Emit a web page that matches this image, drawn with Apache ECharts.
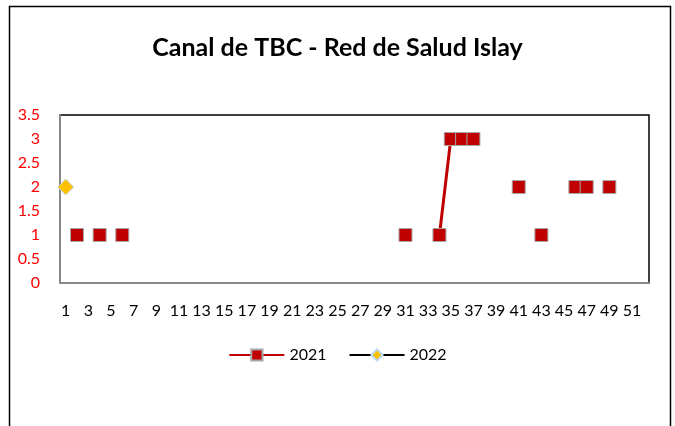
<!DOCTYPE html>
<html>
<head>
<meta charset="utf-8">
<script src="https://cdn.jsdelivr.net/npm/echarts@6/dist/echarts.min.js"></script>
<style>
  html, body { margin: 0; padding: 0; background: #fff; }
  #chart { width: 675px; height: 426px; }
</style>
</head>
<body>
<div id="chart"></div>
<script>
// weeks 1..52
const weeks = [];
for (let w = 1; w <= 52; w++) weeks.push(String(w));

// cases per week, null = no point
const cases2021 = [
  null, 1, null, 1, null, 1, null, null, null, null,
  null, null, null, null, null, null, null, null, null, null,
  null, null, null, null, null, null, null, null, null, null,
  1, null, null, 1, 3, 3, 3, null, null, null,
  2, null, 1, null, null, 2, 2, null, 2, null,
  null, null
];
const cases2022 = [2];

const yTicks = { min: 0, max: 3.5, interval: 0.5 };

const chart = echarts.init(document.getElementById('chart'));
const font = 'Lato, "Open Sans", sans-serif';

chart.setOption({
  animation: false,
  textStyle: { fontFamily: font },
  title: {
    text: 'Canal de TBC - Red de Salud Islay',
    left: 'center',
    top: 30,
    textStyle: { fontSize: 25, fontWeight: 'bold', color: '#000', fontFamily: font }
  },
  graphic: [{
    type: 'rect',
    shape: { x: 9.5, y: 6.5, width: 661, height: 430 },
    style: { fill: 'none', stroke: '#000', lineWidth: 1.5 },
    silent: true
  }],
  grid: {
    left: 60, right: 26, top: 115, bottom: 143,
    show: true, borderColor: '#000', borderWidth: 1.5
  },
  legend: {
    bottom: 58,
    left: 'center',
    itemWidth: 55,
    itemHeight: 14,
    itemGap: 22,
    textStyle: { fontSize: 16, color: '#000', fontFamily: font },
    data: ['2021', '2022']
  },
  xAxis: {
    type: 'category',
    data: weeks,
    boundaryGap: true,
    axisLine: { lineStyle: { color: '#888', width: 2 } },
    axisTick: { show: false },
    axisLabel: { interval: 1, fontSize: 16, color: '#000', margin: 20, fontFamily: font }
  },
  yAxis: {
    type: 'value',
    min: yTicks.min,
    max: yTicks.max,
    interval: yTicks.interval,
    splitLine: { show: false },
    axisLine: { show: true, lineStyle: { color: '#888', width: 2 } },
    axisTick: { show: false },
    axisLabel: { fontSize: 16, color: '#ff0000', margin: 20, fontFamily: font }
  },
  series: [
    {
      name: '2021',
      type: 'line',
      data: cases2021,
      showAllSymbol: true,
      symbol: 'rect',
      symbolSize: 13,
      lineStyle: { color: '#c00000', width: 3 },
      itemStyle: { color: '#c00000', borderColor: '#a6a6a6', borderWidth: 1 }
    },
    {
      name: '2022',
      type: 'line',
      data: cases2022,
      showAllSymbol: true,
      symbol: 'diamond',
      symbolSize: 16,
      lineStyle: { color: '#000', width: 3 },
      itemStyle: { color: '#ffc000', borderColor: '#bdd7ee', borderWidth: 1 }
    }
  ]
});
</script>
</body>
</html>
